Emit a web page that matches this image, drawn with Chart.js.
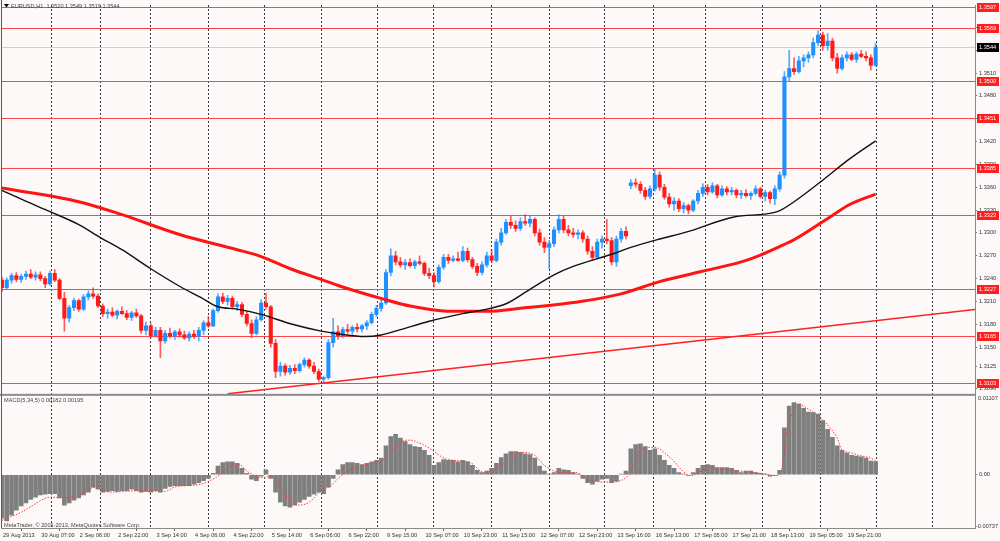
<!DOCTYPE html>
<html>
<head>
<meta charset="utf-8">
<title>EURUSD,H1</title>
<script src="https://cdn.jsdelivr.net/npm/chart.js@4.4.1/dist/chart.umd.min.js"></script>
<style>
  html, body { margin: 0; padding: 0; background: #fcf9f8; overflow: hidden; }
  canvas { display: block; }
</style>
</head>
<body>
<canvas id="chart" width="1000" height="541"></canvas>
<script>
const SYMBOL = 'EURUSD,H1';
const BASE = 1.3;            // candle, MA and MACD figures are in pips (0.0001)
const PIP = 0.0001;
const BARS_PER_CANDLE = 2;   // one drawn candle per two H1 bars

// candles, pips above 1.3000
const opens = [
  238,228,238,244,239,243,246,242,245,240,233,247,
  238,214,188,202,211,200,216,220,217,204,194,196,
  192,197,194,189,195,191,172,178,165,172,158,168,
  165,170,166,162,167,164,172,182,178,198,216,210,
  214,203,206,193,181,168,186,208,203,155,118,125,
  117,122,119,127,133,125,118,108,110,156,170,165,
  173,171,176,174,178,182,193,201,208,248,270,262,
  258,261,257,262,260,247,244,236,255,268,264,266,
  264,276,265,256,248,258,270,264,288,300,314,310,
  306,315,313,318,300,288,281,286,304,318,304,300,
  298,300,292,276,268,288,292,290,262,292,302,362,
  366,364,356,348,358,376,360,347,338,342,332,336,
  330,342,352,360,354,362,350,358,354,356,350,352,
  349,352,358,348,353,345,358,376,505,516,512,526,
  530,534,550,560,546,552,530,516,530,534,528,535,
  532,530,520
];
const highs = [
  242,241,247,248,246,250,252,249,249,243,250,252,
  240,222,205,214,213,219,224,228,220,207,200,202,
  199,203,198,197,200,193,183,181,176,176,172,175,
  172,174,171,170,172,176,185,190,200,220,221,218,
  217,210,209,197,186,190,212,221,205,160,130,128,
  126,127,129,136,135,130,121,112,160,188,178,176,
  180,178,181,180,185,196,205,212,252,279,276,268,
  265,266,264,270,262,254,248,258,272,272,270,275,
  282,280,268,260,262,275,278,292,306,318,322,316,
  320,324,322,320,305,294,290,308,324,322,310,306,
  304,303,296,282,292,296,318,294,296,306,308,370,
  371,367,360,362,384,380,364,352,346,345,340,338,
  344,356,365,364,366,364,362,361,360,358,356,357,
  354,362,360,356,355,362,380,512,540,530,532,534,
  538,556,566,564,562,556,536,534,538,537,538,540,
  538,534,549
];
const lows = [
  223,226,234,236,235,239,240,238,237,228,231,236,
  212,171,183,198,197,198,212,214,202,190,188,190,
  187,193,186,185,189,168,166,162,163,136,155,162,
  160,163,160,158,161,158,166,176,177,196,207,205,
  200,198,190,178,162,166,184,200,150,110,112,113,
  114,115,117,124,122,115,105,103,108,150,160,162,
  168,167,170,170,173,180,190,197,206,244,258,255,
  252,255,253,258,244,240,229,234,252,260,262,263,
  262,262,253,244,245,255,262,262,284,298,306,302,
  303,310,308,296,284,274,253,282,300,300,296,294,
  292,288,272,264,266,280,286,258,256,288,292,358,
  360,352,344,345,355,356,344,334,330,328,326,325,
  328,338,348,350,352,346,348,350,350,346,345,347,
  344,350,346,342,339,337,355,372,500,508,510,518,
  524,530,546,540,540,526,510,514,526,526,524,530,
  526,514,519
];
const closes = [
  228,238,244,239,243,246,242,245,240,233,247,238,
  214,188,202,211,200,216,220,217,204,194,196,192,
  197,194,189,195,191,172,178,165,172,158,168,165,
  170,166,162,167,164,172,182,178,198,216,210,214,
  203,206,193,181,168,186,208,203,155,118,125,117,
  122,119,127,133,125,118,108,110,156,170,165,173,
  171,176,174,178,182,193,201,208,248,270,262,258,
  261,257,262,260,247,244,236,255,268,264,266,264,
  276,265,256,248,258,270,264,288,300,314,310,306,
  315,313,318,300,288,281,286,304,318,304,300,298,
  300,292,276,268,288,292,290,262,292,302,296,366,
  364,356,348,358,376,360,347,338,342,332,336,330,
  342,352,360,354,362,350,358,354,356,350,352,349,
  352,358,348,353,345,358,376,505,516,512,526,530,
  534,550,560,546,552,530,516,530,534,528,535,532,
  530,520,544
];

// moving averages read at a few H1 bars (bar number, pips above 1.3000)
const fastMaBars = [0,9,20,32,41,50,62,74,83,90,98,108,121,133,141,151,158,166,178,192,199,210,219,230,238,255,262,274,285,305,323,330,341,353,364];
const fastMaValues = [356,343,328,311,294,278,253,230,215,203,200,193,180,171,167,164,166,173,184,194,198,207,224,245,256,273,281,292,301,321,328,341,367,397,421];
const slowMaBars = [0,32,50,74,98,108,121,133,141,159,170,187,202,216,241,258,274,291,308,316,324,330,345,353,364];
const slowMaValues = [359,341,324,298,278,269,252,239,230,213,204,197,197,201,210,220,236,249,262,271,282,291,321,337,351];

// support trend line end points
const trendBars = [94, 405.4];
const trendValues = [88.6, 199.6];

// horizontal levels
const levels = [1.3597, 1.3569, 1.3500, 1.3451, 1.3385, 1.3323, 1.3227, 1.3165, 1.3103];

// MACD(5,34,5): main value per candle and signal line, in pips
const macdMain = [
  -60,-64,-56,-49,-43,-39,-34,-31,-28,-27,-26,-26,
  -32,-42,-39,-35,-32,-28,-24,-17,-20,-24,-23,-22,
  -23,-22,-22,-20,-22,-24,-23,-24,-22,-24,-19,-16,
  -15,-15,-15,-15,-13,-11,-8,-5,2,12,17,18,
  18,16,9,2,-6,-8,-2,7,-5,-24,-38,-43,
  -45,-42,-38,-34,-30,-27,-24,-26,-17,-5,7,14,
  17,17,16,14,16,18,20,23,40,53,56,51,
  46,42,39,38,34,27,13,17,21,20,20,18,
  20,18,13,6,3,5,9,16,24,29,32,32,
  31,29,28,23,12,5,1,3,9,7,6,3,
  1,-5,-11,-13,-9,-6,-5,-11,-9,1,5,36,
  42,43,39,34,36,27,20,13,9,3,1,-1,
  3,9,13,14,13,10,10,10,9,6,3,5,
  5,3,2,1,-2,-1,6,65,95,100,98,92,
  87,86,84,75,63,52,40,34,30,27,26,25,
  23,19,18.2
];
const signalBars = [0,3,8,13,20,26,32,39,45,58,68,72,83,89,98,103,108,113,116,120,124,128,133,137,141,147,153,160,166,170,174,178,185,195,201,208,216,222,226,233,239,245,253,260,268,272,278,287,295,305,316,323,325,327,330,332,335,341,345,348,350,353,357,362,364];
const signalValues = [-63,-59,-52,-42,-31,-32,-28,-17,-24,-22,-23,-17,-13,-4,15,3,-4,-2,-18,-35,-42,-38,-22,-15,-2,10,15,23,45,48,44,37,22,17,3,13,31,27,13,3,3,-8,-10,-4,38,38,25,-1,10,6,2,-1,10,61,89,98,93,79,65,51,34,31,27,23,19.5];
const macdRange = [-0.00737, 0.01107];

// time axis
const timeLabels = ['29 Aug 2013','30 Aug 07:00','2 Sep 06:00','2 Sep 22:00','3 Sep 14:00','4 Sep 06:00','4 Sep 22:00','5 Sep 14:00','6 Sep 06:00','6 Sep 22:00','9 Sep 15:00','10 Sep 07:00','10 Sep 23:00','11 Sep 15:00','12 Sep 07:00','12 Sep 23:00','13 Sep 16:00','16 Sep 13:00','17 Sep 05:00','17 Sep 21:00','18 Sep 13:00','19 Sep 05:00','19 Sep 21:00'];
const timeLabelBars = [0,16,32,48,64,80,96,112,128,144,160,176,192,208,224,240,256,272,288,304,320,336,352];
const dayBreakBars = [9,32,50,74,98,121,145,168,192,216,240,262,281,305,329,353,376];
const priceTicks = [1.3096,1.3125,1.3150,1.3180,1.3210,1.3240,1.3270,1.3300,1.3330,1.3360,1.3390,1.3420,1.3450,1.3480,1.3510,1.3540,1.3570];

const toPrice = p => +(BASE + p * PIP).toFixed(5);
const FONT = { family: 'Liberation Sans, Arial, sans-serif', size: 5.6 };
const FONT_CSS = '5.6px "Liberation Sans", Arial, sans-serif';
const BULL = '#1e90ff', BEAR = '#ff1a1a';

document.addEventListener('DOMContentLoaded', function() {
    drawChart();
});

function tag(ctx, x, yPix, text, bg) {
    const cy = Math.round(yPix);
    ctx.fillStyle = bg;
    ctx.fillRect(x, cy - 4, 22, 9);
    ctx.fillStyle = '#fff';
    ctx.fillText(text, x + 2, cy + 0.5);
}

const mt4Decor = {
    id: 'mt4Decor',
    beforeDraw(chart) {
        const ctx = chart.ctx;
        ctx.save();
        ctx.fillStyle = '#fcf9f8';
        ctx.fillRect(0, 0, chart.width, chart.height);
        ctx.restore();
    },
    beforeDatasetsDraw(chart) {
        const { ctx, chartArea } = chart;
        const y = chart.scales.y;
        ctx.save();
        ctx.lineWidth = 1;
        // bid line
        const by = Math.round(y.getPixelForValue(toPrice(closes[closes.length - 1]))) + 0.5;
        ctx.strokeStyle = '#cfcfcf';
        ctx.beginPath(); ctx.moveTo(chartArea.left, by); ctx.lineTo(y.left, by); ctx.stroke();
        // horizontal levels
        ctx.strokeStyle = '#ff4646';
        levels.forEach(function(v) {
            const py = Math.round(y.getPixelForValue(v)) + 0.5;
            ctx.beginPath(); ctx.moveTo(chartArea.left, py); ctx.lineTo(y.left, py); ctx.stroke();
        });
        ctx.restore();
    },
    afterDraw(chart) {
        const ctx = chart.ctx;
        const y = chart.scales.y, y2 = chart.scales.y2, x = chart.scales.x;
        ctx.save();
        ctx.font = FONT_CSS;
        ctx.textBaseline = 'middle';
        ctx.textAlign = 'left';

        // pane separator and left frame
        ctx.fillStyle = '#8c8c8c';
        ctx.fillRect(0, y2.top - 1, y.left, 2);
        ctx.fillStyle = '#5a5a5a';
        ctx.fillRect(1, 0, 1, x.top);

        // level tags
        levels.forEach(function(v) {
            tag(ctx, y.left + 2, y.getPixelForValue(v), v.toFixed(4), '#ff1f1f');
        });
        const last = closes.length - 1;
        tag(ctx, y.left + 2, y.getPixelForValue(toPrice(closes[last])), toPrice(closes[last]).toFixed(4), '#000');

        // MACD scale extremes
        ctx.fillStyle = '#333';
        ctx.fillText(macdRange[1].toFixed(5), y2.left + 3, y2.top + 4);
        ctx.fillText(macdRange[0].toFixed(5), y2.left + 1, y2.bottom - 2);

        // header
        ctx.fillStyle = '#000';
        ctx.beginPath(); ctx.moveTo(4, 4); ctx.lineTo(9, 4); ctx.lineTo(6.5, 7.5); ctx.closePath(); ctx.fill();
        ctx.fillStyle = '#444';
        const ohlc = [opens[last], highs[last], lows[last], closes[last]].map(function(p) { return toPrice(p).toFixed(4); });
        ctx.fillText(SYMBOL + '  ' + ohlc.join(' '), 11, 6);
        const lastSignal = signalValues[signalValues.length - 1] * PIP;
        ctx.fillText('MACD(5,34,5) ' + (macdMain[last] * PIP).toFixed(5) + ' ' + lastSignal.toFixed(5), 4, y2.top + 6);
        ctx.fillText('MetaTrader, \u00a9 2001-2013, MetaQuotes Software Corp.', 4, y2.bottom - 3);
        ctx.restore();
    }
};

function drawChart() {
    const candleX = opens.map(function(o, i) { return i * BARS_PER_CANDLE; });
    const isBull = function(i) { return closes[i] >= opens[i]; };
    const X_MIN = -0.4, X_MAX = 405.4;

    const ctx = document.getElementById('chart').getContext('2d');
    const chart = new Chart(ctx, {
        type: 'bar',
        data: {
            datasets: [
                {
                    type: 'line',
                    label: 'MA fast',
                    data: fastMaBars.map(function(b, i) { return { x: b, y: toPrice(fastMaValues[i]) }; }),
                    borderColor: '#111',
                    borderWidth: 1.4,
                    pointRadius: 0,
                    cubicInterpolationMode: 'monotone',
                    yAxisID: 'y',
                    order: 1
                },
                {
                    type: 'line',
                    label: 'MA slow',
                    data: slowMaBars.map(function(b, i) { return { x: b, y: toPrice(slowMaValues[i]) }; }),
                    borderColor: '#ff1414',
                    borderWidth: 3,
                    pointRadius: 0,
                    cubicInterpolationMode: 'monotone',
                    yAxisID: 'y',
                    order: 1
                },
                {
                    type: 'line',
                    label: 'Trend',
                    data: trendBars.map(function(b, i) { return { x: b, y: toPrice(trendValues[i]) }; }),
                    borderColor: '#ff2020',
                    borderWidth: 1.5,
                    pointRadius: 0,
                    yAxisID: 'y',
                    order: 1
                },
                {
                    label: 'Bodies',
                    data: candleX.map(function(x, i) { return { x: x, y: [toPrice(opens[i]), toPrice(closes[i])] }; }),
                    backgroundColor: function(c) { return isBull(c.dataIndex) ? BULL : BEAR; },
                    barThickness: 3.4,
                    minBarLength: 1,
                    grouped: false,
                    yAxisID: 'y',
                    order: 3
                },
                {
                    label: 'Wicks',
                    data: candleX.map(function(x, i) { return { x: x, y: [toPrice(lows[i]), toPrice(highs[i])] }; }),
                    backgroundColor: function(c) { return isBull(c.dataIndex) ? 'rgba(30,144,255,0.75)' : 'rgba(255,26,26,0.7)'; },
                    barThickness: 1,
                    grouped: false,
                    yAxisID: 'y',
                    order: 4
                },
                {
                    type: 'line',
                    label: 'Signal',
                    data: signalBars.map(function(b, i) { return { x: b, y: signalValues[i] * PIP }; }),
                    borderColor: '#ff3a3a',
                    borderWidth: 1,
                    borderDash: [1.5, 1.5],
                    pointRadius: 0,
                    cubicInterpolationMode: 'monotone',
                    yAxisID: 'y2',
                    order: 2
                },
                {
                    label: 'MACD',
                    data: candleX.map(function(x, i) { return { x: x, y: macdMain[i] * PIP }; }),
                    backgroundColor: '#7f7f7f',
                    barThickness: 4,
                    grouped: false,
                    yAxisID: 'y2',
                    order: 5
                }
            ]
        },
        options: {
            responsive: false,
            animation: false,
            events: [],
            layout: { padding: { left: 1, top: 2, right: 0, bottom: 0 } },
            plugins: {
                legend: { display: false },
                tooltip: { enabled: false }
            },
            scales: {
                x: {
                    type: 'linear',
                    position: 'bottom',
                    min: X_MIN,
                    max: X_MAX,
                    offset: false,
                    afterBuildTicks: function(s) { s.ticks = timeLabelBars.map(function(v) { return { value: v }; }); },
                    afterFit: function(s) { s.height = 13; },
                    ticks: {
                        autoSkip: false,
                        maxRotation: 0,
                        minRotation: 0,
                        align: 'start',
                        padding: 1,
                        labelOffset: 1,
                        color: '#333',
                        font: FONT,
                        callback: function(v, i) { return timeLabels[i]; }
                    },
                    grid: { drawOnChartArea: false, tickLength: 3, color: '#666' },
                    border: { color: '#8a8a8a' }
                },
                days: {
                    type: 'linear',
                    position: 'top',
                    min: X_MIN,
                    max: X_MAX,
                    offset: false,
                    afterBuildTicks: function(s) { s.ticks = dayBreakBars.map(function(v) { return { value: v }; }); },
                    afterFit: function(s) { s.height = 0; },
                    ticks: { display: false },
                    grid: { drawTicks: false, color: '#3c3c3c', lineWidth: 1 },
                    border: { display: false, dash: [2, 2] }
                },
                y: {
                    type: 'linear',
                    position: 'right',
                    stack: 'panes',
                    stackWeight: 392,
                    min: 1.30873,
                    max: 1.35990,
                    afterBuildTicks: function(s) { s.ticks = priceTicks.map(function(v) { return { value: v }; }); },
                    afterFit: function(s) { s.width = 25; },
                    ticks: { padding: 2, color: '#333', font: FONT, callback: function(v) { return v.toFixed(4); } },
                    grid: { drawOnChartArea: false, tickLength: 2, color: '#777' },
                    border: { color: '#8a8a8a' }
                },
                y2: {
                    type: 'linear',
                    position: 'right',
                    stack: 'panes',
                    stackWeight: 134,
                    min: macdRange[0],
                    max: macdRange[1],
                    afterBuildTicks: function(s) { s.ticks = [{ value: 0 }]; },
                    afterFit: function(s) { s.width = 25; },
                    ticks: { padding: 2, color: '#333', font: FONT, callback: function() { return '0.00'; } },
                    grid: { drawOnChartArea: false, tickLength: 2, color: '#777' },
                    border: { color: '#8a8a8a' }
                }
            }
        },
        plugins: [mt4Decor]
    });
}
</script>
</body>
</html>
